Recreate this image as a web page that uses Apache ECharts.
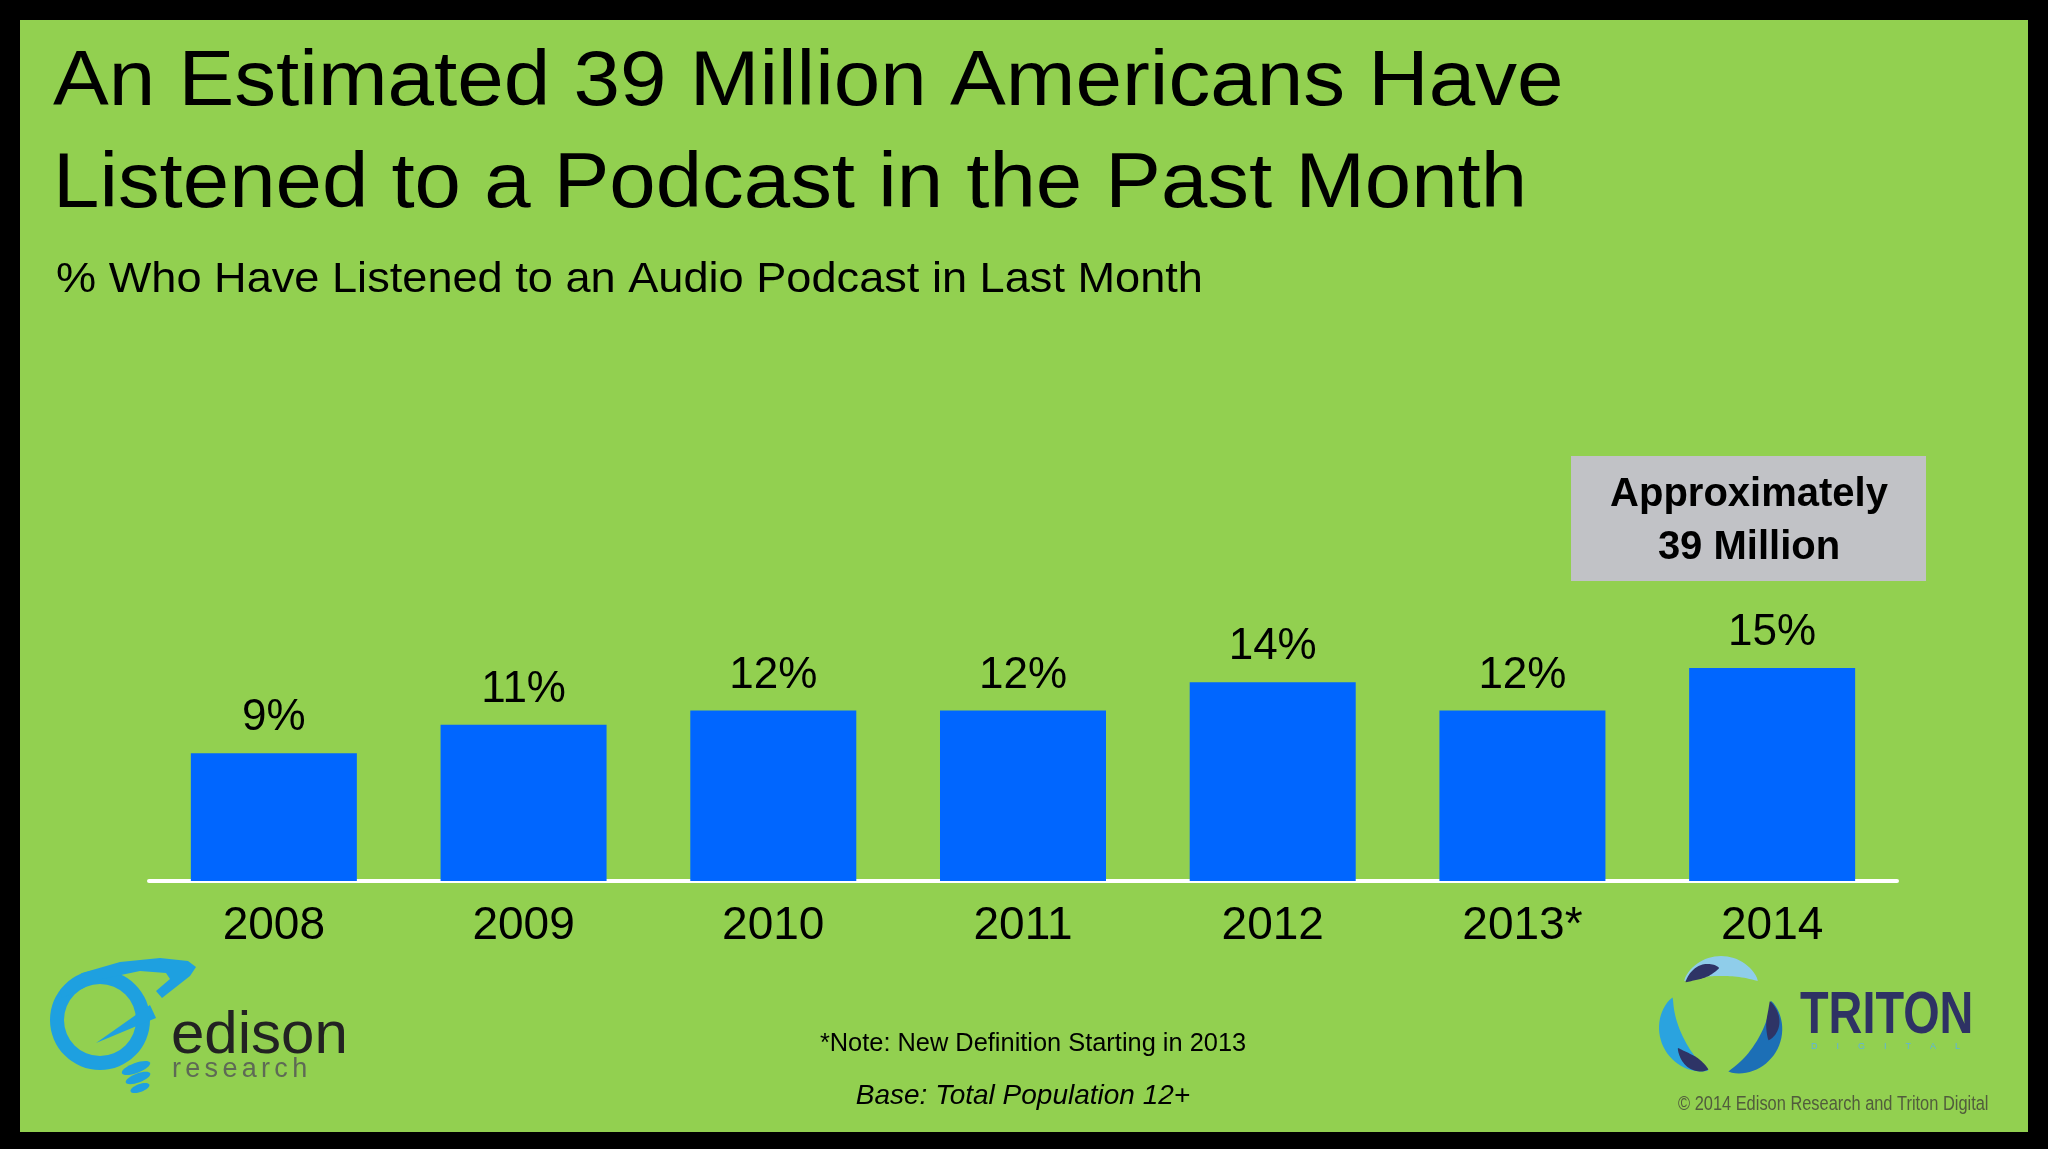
<!DOCTYPE html>
<html>
<head>
<meta charset="utf-8">
<script src="https://cdn.jsdelivr.net/npm/echarts@6/dist/echarts.min.js"></script>
<style>
html,body{margin:0;padding:0;background:#000;}
#c{width:2048px;height:1149px;}
</style>
</head>
<body>
<div id="c"></div>
<script>
// ---- data ----
const categories = ['2008', '2009', '2010', '2011', '2012', '2013*', '2014'];
const values = [9, 11, 12, 12, 14, 12, 15];
const titleLines = ['An Estimated 39 Million Americans Have', 'Listened to a Podcast in the Past Month'];
const subtitle = '% Who Have Listened to an Audio Podcast in Last Month';
const calloutLines = ['Approximately', '39 Million'];
const noteText = '*Note: New Definition Starting in 2013';
const baseText = 'Base: Total Population 12+';
const copyrightText = '\u00A9 2014 Edison Research and Triton Digital';

const FONT = '"Liberation Sans", Arial, Helvetica, sans-serif';
const chart = echarts.init(document.getElementById('c'), null, {renderer: 'canvas'});

// helper to lay out letter-spaced text
const mctx = document.createElement('canvas').getContext('2d');
function spaced(text, x, y, font, fill, spacing) {
  mctx.font = font;
  const els = [];
  let cx = x;
  for (const ch of text) {
    els.push({type: 'text', x: cx, y: y, z: 10, style: {text: ch, font: font, fill: fill, textVerticalAlign: 'middle'}});
    cx += mctx.measureText(ch).width + spacing;
  }
  return els;
}
// curved leaf along a circle (logo decoration)
function leaf(cx, cy, R, a1, a2, maxT, fill, skew) {
  const outer = [], inner = [];
  const n = 30;
  for (let i = 0; i <= n; i++) {
    const s = i / n;
    const a = (a1 + (a2 - a1) * s) * Math.PI / 180;
    const t = maxT * Math.pow(Math.sin(Math.PI * s), 0.8) * (1 + (skew || 0) * (s - 0.5));
    outer.push([cx + (R + t / 2) * Math.cos(a), cy + (R + t / 2) * Math.sin(a)]);
    inner.push([cx + (R - t / 2) * Math.cos(a), cy + (R - t / 2) * Math.sin(a)]);
  }
  return {type: 'polygon', shape: {points: outer.concat(inner.reverse())}, style: {fill: fill}};
}
const BLUE_E = '#1EA0E0';
const TC = [1721, 1019];

const graphics = [
  // green panel
  {type: 'rect', z: -100, shape: {x: 20, y: 20, width: 2008, height: 1112}, style: {fill: '#92D050'}},
  // titles
  {type: 'text', x: 53, y: 84, scaleX: 1.086, style: {text: titleLines[0], font: '77px ' + FONT, fill: '#000', textVerticalAlign: 'middle'}},
  {type: 'text', x: 53, y: 186, scaleX: 1.083, style: {text: titleLines[1], font: '77px ' + FONT, fill: '#000', textVerticalAlign: 'middle'}},
  {type: 'text', x: 56, y: 280, scaleX: 1.05, style: {text: subtitle, font: '43px ' + FONT, fill: '#000', textVerticalAlign: 'middle'}},
  // callout box
  {type: 'rect', shape: {x: 1571, y: 456, width: 355, height: 125}, style: {fill: '#C1C2C6'}},
  {type: 'text', x: 1749, y: 495, style: {text: calloutLines[0], font: 'bold 40px ' + FONT, fill: '#000', textAlign: 'center', textVerticalAlign: 'middle'}},
  {type: 'text', x: 1749, y: 548, style: {text: calloutLines[1], font: 'bold 40px ' + FONT, fill: '#000', textAlign: 'center', textVerticalAlign: 'middle'}},
  // footnotes
  {type: 'text', x: 1033, y: 1044, style: {text: noteText, font: '25.4px ' + FONT, fill: '#000', textAlign: 'center', textVerticalAlign: 'middle'}},
  {type: 'text', x: 1023, y: 1096, style: {text: baseText, font: 'italic 28px ' + FONT, fill: '#000', textAlign: 'center', textVerticalAlign: 'middle'}},
  {type: 'text', x: 1678, y: 1104, scaleX: 0.82, style: {text: copyrightText, font: '20px ' + FONT, fill: '#515C3C', textVerticalAlign: 'middle'}},
  // Edison logo
  {type: 'ring', shape: {cx: 100, cy: 1020, r: 50, r0: 36}, style: {fill: BLUE_E}},
  {type: 'polygon', shape: {points: [[60, 990], [82, 973], [120, 962], [160, 958], [188, 961], [196, 967], [190, 976], [162, 998], [156, 991], [170, 979], [166, 973], [140, 971], [102, 979], [62, 998]]}, style: {fill: BLUE_E}},
  {type: 'polygon', shape: {points: [[96, 1043], [150, 1005], [156, 1018]]}, style: {fill: BLUE_E}},
  {type: 'ellipse', x: 136, y: 1068, rotation: 0.35, shape: {cx: 0, cy: 0, rx: 15, ry: 5}, style: {fill: BLUE_E}},
  {type: 'ellipse', x: 138, y: 1078, rotation: 0.35, shape: {cx: 0, cy: 0, rx: 13, ry: 4.5}, style: {fill: BLUE_E}},
  {type: 'ellipse', x: 140, y: 1088, rotation: 0.35, shape: {cx: 0, cy: 0, rx: 10, ry: 4}, style: {fill: BLUE_E}},
  {type: 'text', x: 171, y: 1036, style: {text: 'edison', font: '60px ' + FONT, fill: '#222222', textVerticalAlign: 'middle'}},
  // Triton logo (three curved leaves)
  leaf(TC[0], TC[1], 53, 226, 314, 20, '#8FCDEA', 0),
  leaf(TC[0], TC[1], 51, 226, 268, 13, '#2E3466', 0.4),
  leaf(TC[0], TC[1], 53, 104, 204, 22, '#2AA3DF', 0),
  leaf(TC[0], TC[1], 52, 104, 146, 13, '#2E3466', -0.4),
  leaf(TC[0], TC[1], 53, 340, 442, 22, '#1C6FB6', 0),
  leaf(TC[0], TC[1], 52, 340, 384, 13, '#2E3466', 0.4),
  {type: 'text', x: 1800, y: 1016, scaleX: 0.78, style: {text: 'TRITON', font: 'bold 60px ' + FONT, fill: '#2E3264', textVerticalAlign: 'middle'}}
].concat(
  spaced('research', 172, 1070, '27px ' + FONT, '#5E6A55', 4.3),
  spaced('DIGITAL', 1811, 1047, '9px ' + FONT, '#5FB4DA', 19)
);

chart.setOption({
  backgroundColor: '#000',
  animation: false,
  grid: {left: 149, right: 151, top: 313, bottom: 268, containLabel: false},
  xAxis: {
    type: 'category',
    data: categories,
    axisLine: {show: true, lineStyle: {color: '#FFFFFF', width: 4}},
    axisTick: {show: false},
    axisLabel: {color: '#000', fontSize: 46, fontFamily: FONT, margin: 22}
  },
  yAxis: {
    type: 'value', min: 0, max: 40, show: false,
    splitLine: {show: false}
  },
  series: [{
    type: 'bar',
    data: values,
    barWidth: 166,
    itemStyle: {color: '#0066FF'},
    label: {show: true, position: 'top', distance: 13, formatter: '{c}%', color: '#000', fontSize: 44, fontFamily: FONT}
  }],
  graphic: graphics
});
</script>
</body>
</html>
